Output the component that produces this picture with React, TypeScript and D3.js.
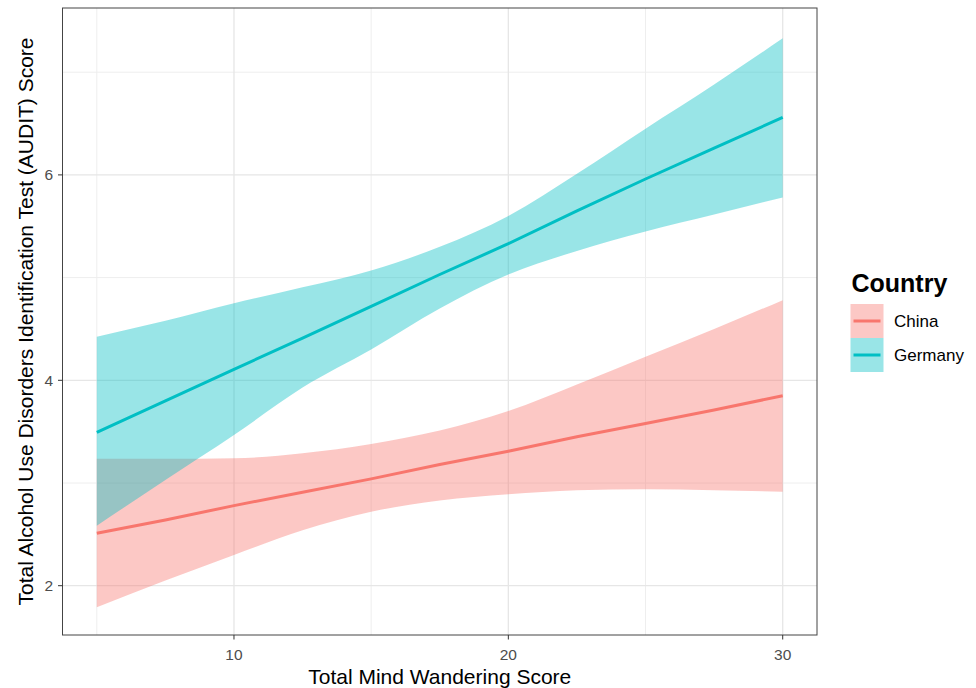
import React from "react";
import * as d3 from "d3";

const xValues = [5, 7.5, 10, 12.5, 15, 17.5, 20, 22.5, 25, 27.5, 30];

const chinaFit = [2.51, 2.64, 2.78, 2.91, 3.04, 3.18, 3.31, 3.45, 3.58, 3.71, 3.85];
const chinaUpper = [3.235, 3.235, 3.24, 3.29, 3.38, 3.51, 3.7, 3.96, 4.23, 4.5, 4.78];
const chinaLower = [1.79, 2.05, 2.3, 2.54, 2.72, 2.83, 2.89, 2.93, 2.94, 2.93, 2.915];

const germanyFit = [3.494, 3.8, 4.107, 4.41, 4.72, 5.03, 5.33, 5.65, 5.96, 6.26, 6.56];
const germanyUpper = [4.425, 4.58, 4.75, 4.905, 5.07, 5.3, 5.6, 6.01, 6.45, 6.88, 7.33];
const germanyLower = [2.584, 3.03, 3.467, 3.93, 4.3, 4.7, 5.03, 5.26, 5.45, 5.615, 5.78];

const countries = ["China", "Germany"];
const countryColors = ["#F8766D", "#00BFC4"];

const xMajorTicks = [10, 20, 30];
const xMinorTicks = [5, 15, 25];
const yMajorTicks = [2, 4, 6];
const yMinorTicks = [3, 5, 7];

const xTitle = "Total Mind Wandering Score";
const yTitle = "Total Alcohol Use Disorders Identification Test (AUDIT) Score";
const legendTitle = "Country";

const W = 976;
const H = 688;
const panel = { left: 62.5, right: 817, top: 8, bottom: 635 };
const FONT = "'Liberation Sans', Arial, Helvetica, sans-serif";

export default function App() {
  const x = d3.scaleLinear().domain([3.75, 31.25]).range([panel.left, panel.right]);
  const y = d3.scaleLinear().domain([1.52, 7.625]).range([panel.bottom, panel.top]);

  const series = [
    { name: countries[0], color: countryColors[0], fit: chinaFit, lo: chinaLower, hi: chinaUpper },
    { name: countries[1], color: countryColors[1], fit: germanyFit, lo: germanyLower, hi: germanyUpper },
  ];

  const line = d3
    .line<number>()
    .x((_, i) => x(xValues[i]))
    .y((d) => y(d));

  const bandPath = (lo: number[], hi: number[]) =>
    d3
      .area<number>()
      .x((_, i) => x(xValues[i]))
      .y0((_, i) => y(lo[i]))
      .y1((_, i) => y(hi[i]))
      .curve(d3.curveMonotoneX)(lo) as string;

  const legendX = 850.5;
  const legendKeyTop = 304;
  const keyW = 33;
  const keyH = 34;

  return (
    <svg
      width={W}
      height={H}
      style={{ position: "absolute", left: 0, top: 0, background: "#fff" }}
      fontFamily={FONT}
    >
      <rect x={0} y={0} width={W} height={H} fill="#fff" />
      <defs>
        <clipPath id="panelClip">
          <rect
            x={panel.left}
            y={panel.top}
            width={panel.right - panel.left}
            height={panel.bottom - panel.top}
          />
        </clipPath>
      </defs>

      {xMinorTicks.map((t) => (
        <line key={"xm" + t} x1={x(t)} x2={x(t)} y1={panel.top} y2={panel.bottom} stroke="#EEEEEE" strokeWidth={1} />
      ))}
      {yMinorTicks.map((t) => (
        <line key={"ym" + t} x1={panel.left} x2={panel.right} y1={y(t)} y2={y(t)} stroke="#EEEEEE" strokeWidth={1} />
      ))}
      {xMajorTicks.map((t) => (
        <line key={"xM" + t} x1={x(t)} x2={x(t)} y1={panel.top} y2={panel.bottom} stroke="#E6E6E6" strokeWidth={1.3} />
      ))}
      {yMajorTicks.map((t) => (
        <line key={"yM" + t} x1={panel.left} x2={panel.right} y1={y(t)} y2={y(t)} stroke="#E6E6E6" strokeWidth={1.3} />
      ))}

      <g clipPath="url(#panelClip)">
        {series.map((s) => (
          <path key={"band" + s.name} d={bandPath(s.lo, s.hi)} fill={s.color} fillOpacity={0.4} stroke="none" />
        ))}
        {series.map((s) => (
          <path key={"line" + s.name} d={line(s.fit) as string} fill="none" stroke={s.color} strokeWidth={3} />
        ))}
      </g>

      <rect
        x={panel.left}
        y={panel.top}
        width={panel.right - panel.left}
        height={panel.bottom - panel.top}
        fill="none"
        stroke="#444"
        strokeWidth={1}
      />

      {xMajorTicks.map((t) => (
        <g key={"xt" + t}>
          <line x1={x(t)} x2={x(t)} y1={panel.bottom} y2={panel.bottom + 4.5} stroke="#333" strokeWidth={1} />
          <text x={x(t)} y={660} textAnchor="middle" fontSize={15.5} fill="#4D4D4D">
            {t}
          </text>
        </g>
      ))}
      {yMajorTicks.map((t) => (
        <g key={"yt" + t}>
          <line x1={panel.left - 4.5} x2={panel.left} y1={y(t)} y2={y(t)} stroke="#333" strokeWidth={1} />
          <text x={53} y={y(t) + 5.5} textAnchor="end" fontSize={15.5} fill="#4D4D4D">
            {t}
          </text>
        </g>
      ))}

      <text x={(panel.left + panel.right) / 2} y={684} textAnchor="middle" fontSize={21} fill="#000">
        {xTitle}
      </text>
      <text
        transform={`translate(33, ${(panel.top + panel.bottom) / 2}) rotate(-90)`}
        textAnchor="middle"
        fontSize={21}
        fill="#000"
      >
        {yTitle}
      </text>

      <text x={legendX + 1} y={292} fontSize={25} fontWeight="bold" fill="#000">
        {legendTitle}
      </text>
      {series.map((s, i) => {
        const ky = legendKeyTop + i * keyH;
        return (
          <g key={"leg" + s.name}>
            <rect x={legendX} y={ky} width={keyW} height={keyH} fill="#fff" />
            <rect x={legendX} y={ky} width={keyW} height={keyH} fill={s.color} fillOpacity={0.4} />
            <line
              x1={legendX + 3}
              x2={legendX + keyW - 3}
              y1={ky + keyH / 2}
              y2={ky + keyH / 2}
              stroke={s.color}
              strokeWidth={3}
            />
            <text x={894} y={ky + keyH / 2 + 6} fontSize={17} fill="#000">
              {s.name}
            </text>
          </g>
        );
      })}
    </svg>
  );
}
